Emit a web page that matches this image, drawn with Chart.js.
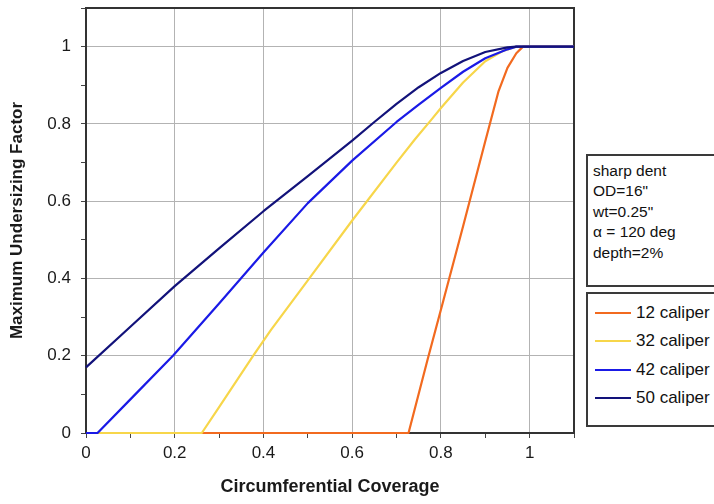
<!DOCTYPE html>
<html><head><meta charset="utf-8">
<script src="https://cdn.jsdelivr.net/npm/chart.js@4/dist/chart.umd.min.js"></script>
<style>
html,body{margin:0;padding:0;background:#fff;}
#wrap{position:relative;width:714px;height:504px;overflow:hidden;font-family:"Liberation Sans",Arial,sans-serif;}
#c{position:absolute;left:0;top:0;}
.box{position:absolute;border:2px solid #3a3a3a;background:#fff;box-sizing:border-box;color:#111;}
#note{left:586px;top:154px;width:150px;height:133px;padding:5px 0 0 5px;font-size:15.5px;line-height:20.4px;}
#legend{left:586px;top:292px;width:150px;height:135px;font-size:17px;}
.row{position:absolute;left:0;height:20px;}
.sw{position:absolute;left:7px;width:36px;height:2px;}
.lt{position:absolute;left:48px;white-space:nowrap;line-height:20px;}
</style></head><body>
<div id="wrap"><canvas id="c" width="714" height="504"></canvas>
<div id="note" class="box"></div>
<div id="legend" class="box"></div>
</div>
<script>
// ---- data ----
const seriesNames  = ['12 caliper', '32 caliper', '42 caliper', '50 caliper'];
const seriesColors = ['#f26a1f', '#f7d64a', '#1a1ae6', '#12127a'];

const cal12X = [0, 0.727, 0.77, 0.806, 0.85, 0.90, 0.93, 0.95, 0.97, 0.985, 1.1];
const cal12Y = [0, 0, 0.19, 0.345, 0.535, 0.755, 0.885, 0.945, 0.983, 1, 1];

const cal32X = [0, 0.261, 0.30, 0.377, 0.417, 0.50, 0.60, 0.70, 0.742, 0.78, 0.80, 0.85, 0.90, 0.94, 0.97, 1.1];
const cal32Y = [0, 0, 0.067, 0.20, 0.267, 0.395, 0.55, 0.70, 0.761, 0.813, 0.841, 0.907, 0.962, 0.989, 1, 1];

const cal42X = [0, 0.026, 0.10, 0.196, 0.30, 0.40, 0.50, 0.60, 0.70, 0.75, 0.80, 0.85, 0.90, 0.95, 0.97, 1.1];
const cal42Y = [0, 0, 0.087, 0.20, 0.335, 0.467, 0.595, 0.705, 0.805, 0.85, 0.893, 0.935, 0.97, 0.993, 1, 1];

const cal50X = [0, 0.10, 0.20, 0.30, 0.40, 0.50, 0.60, 0.65, 0.70, 0.75, 0.80, 0.85, 0.90, 0.95, 0.97, 1.1];
const cal50Y = [0.17, 0.275, 0.38, 0.478, 0.574, 0.665, 0.757, 0.805, 0.852, 0.895, 0.932, 0.963, 0.986, 0.998, 1, 1];

const xTickLabels = ['0', '0.2', '0.4', '0.6', '0.8', '1'];
const yTickLabels = ['0', '0.2', '0.4', '0.6', '0.8', '1'];
const noteLines = ['sharp dent', 'OD=16"', 'wt=0.25"', '\u03B1 = 120 deg', 'depth=2%'];
const xTitle = 'Circumferential Coverage';
const yTitle = 'Maximum Undersizing Factor';
// --------------------------------------

const allX = [cal12X, cal32X, cal42X, cal50X];
const allY = [cal12Y, cal32Y, cal42Y, cal50Y];

const datasets = seriesNames.map((name, i) => ({
  label: name,
  data: allX[i].map((x, j) => ({x: x, y: allY[i][j]})),
  borderColor: seriesColors[i],
  backgroundColor: seriesColors[i],
  borderWidth: 2.2,
  pointRadius: 0,
  tension: 0,
  borderJoinStyle: 'round',
  fill: false,
  clip: 4,
  order: seriesNames.length - i
}));

function labelFor(arr) {
  return function(value) {
    const k = Math.round(value * 10);
    if (k % 2 !== 0) return '';
    return arr[k / 2] !== undefined ? arr[k / 2] : '';
  };
}
function gridColor(ctx) {
  const k = Math.round(ctx.tick.value * 10);
  return (k % 2 === 0 && k <= 10) ? '#b3b3b3' : 'rgba(0,0,0,0)';
}

const framePlugin = {
  id: 'frame',
  beforeDatasetsDraw(chart) {
    const a = chart.chartArea, c = chart.ctx;
    c.save();
    c.strokeStyle = '#333';
    c.lineWidth = 2;
    c.strokeRect(a.left, a.top, a.right - a.left, a.bottom - a.top);
    c.restore();
  }
};

const FONT = '"Liberation Sans", Arial, sans-serif';

new Chart(document.getElementById('c'), {
  type: 'line',
  data: {datasets: datasets},
  plugins: [framePlugin],
  options: {
    responsive: false,
    animation: false,
    devicePixelRatio: 1,
    layout: {padding: {left: 0, right: 140, top: 8, bottom: 0}},
    plugins: {legend: {display: false}, tooltip: {enabled: false}},
    scales: {
      x: {
        type: 'linear', min: 0, max: 1.1,
        afterFit(s) { s.height = 71; s.paddingLeft = 0; s.paddingRight = 0; },
        ticks: {stepSize: 0.1, autoSkip: false, maxRotation: 0, padding: 5,
                color: '#1a1a1a', font: {family: FONT, size: 17},
                callback: labelFor(xTickLabels)},
        grid: {color: gridColor, tickColor: '#444', tickLength: 5, lineWidth: 1},
        border: {color: '#333', width: 2},
        title: {display: true, text: xTitle, color: '#1a1a1a',
                font: {family: FONT, size: 18, weight: 'bold'}, padding: {top: 0, bottom: 6}}
      },
      y: {
        type: 'linear', min: 0, max: 1.1,
        afterFit(s) { s.width = 86; s.paddingTop = 0; s.paddingBottom = 0; },
        ticks: {stepSize: 0.1, autoSkip: false, padding: 10,
                color: '#1a1a1a', font: {family: FONT, size: 17},
                callback: labelFor(yTickLabels)},
        grid: {color: gridColor, tickColor: '#444', tickLength: 5, lineWidth: 1},
        border: {color: '#333', width: 2},
        title: {display: true, text: yTitle, color: '#1a1a1a',
                font: {family: FONT, size: 17, weight: 'bold'}, padding: {top: 7, bottom: 0}}
      }
    }
  }
});

// annotation box and legend, built from the arrays above
const note = document.getElementById('note');
noteLines.forEach(t => { const d = document.createElement('div'); d.textContent = t; note.appendChild(d); });
const leg = document.getElementById('legend');
seriesNames.forEach((name, i) => {
  const r = document.createElement('div');
  r.className = 'row';
  r.style.top = (9 + i * 28.3) + 'px';
  const sw = document.createElement('span'); sw.className = 'sw'; sw.style.top = '9px'; sw.style.background = seriesColors[i];
  const lt = document.createElement('span'); lt.className = 'lt'; lt.textContent = name;
  r.appendChild(sw); r.appendChild(lt); leg.appendChild(r);
});
</script>
</body></html>
